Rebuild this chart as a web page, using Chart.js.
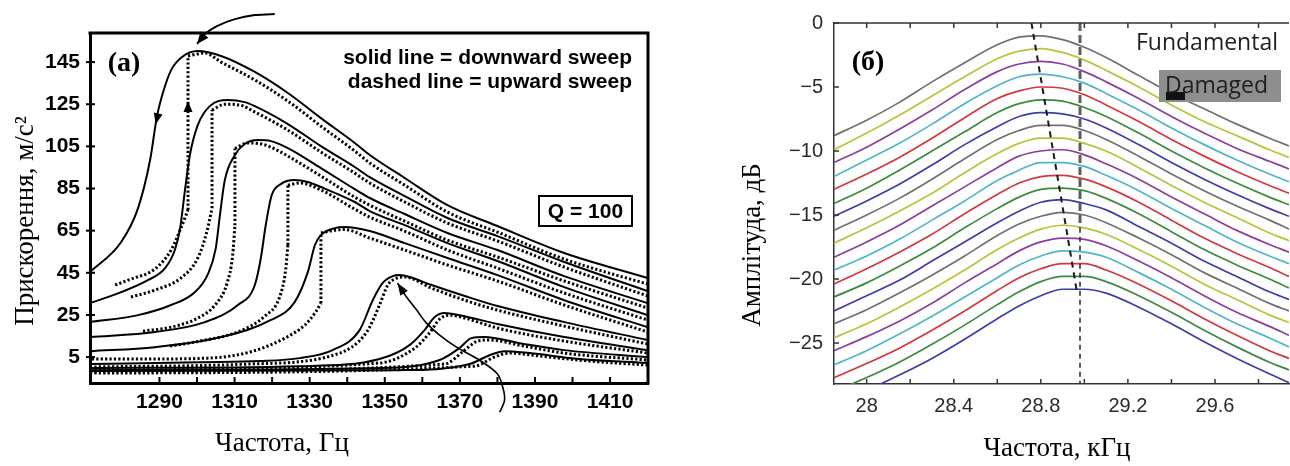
<!DOCTYPE html>
<html>
<head>
<meta charset="utf-8">
<title>Резонансні криві</title>
<script src="https://cdn.jsdelivr.net/npm/chart.js@4.4.1/dist/chart.umd.min.js"></script>
<style>
  html, body { margin: 0; padding: 0; background: #fff; }
  #page { position: relative; width: 1290px; height: 466px; overflow: hidden; }
  canvas { position: absolute; top: 0; }
  #accel { left: 0; }
  #amp { left: 660px; }
</style>
</head>
<body>
<div id="page">
  <canvas id="accel" width="660" height="466"></canvas>
  <canvas id="amp" width="630" height="466"></canvas>
</div>
<script>
// === (а) Прискорення: зменшення частоти (суцільні) і збільшення (пунктир) ===
const accelFreqTicks = [1290, 1300, 1310, 1320, 1330, 1340, 1350, 1360, 1370, 1380, 1390, 1400, 1410];
const accelFreqLabels = [1290, 1310, 1330, 1350, 1370, 1390, 1410];
const accelTicks = [5, 25, 45, 65, 85, 105, 125, 145];

// [частота, Гц ; прискорення, м/с2]
const down1 = [[1271.5,45.3],[1279.8,59.6],[1284.3,75.7],[1287.5,98.5],[1289.3,118.9],[1290.9,130.3],[1293.1,141.2],[1296.0,147.4],[1300.2,150.2],[1306.4,147.9],[1315.4,140.3],[1324.2,130.3],[1333.0,118.4],[1342.0,106.6],[1346.0,100.9],[1355.3,90.0],[1366.7,77.1],[1380.0,67.2],[1397.8,54.4],[1420.0,42.5]];
const down2 = [[1271.5,30.6],[1279.8,35.8],[1286.9,41.5],[1291.5,47.2],[1294.1,55.8],[1295.5,66.2],[1296.8,84.3],[1298.1,100.9],[1300.2,115.1],[1303.4,124.1],[1308.2,127.0],[1312.7,126.0],[1315.4,124.1],[1324.2,115.6],[1333.0,105.1],[1342.0,95.2],[1346.0,90.4],[1355.3,81.4],[1366.7,71.0],[1380.0,62.4],[1397.8,50.1],[1420.0,36.3]];
const down3 = [[1271.5,21.6],[1284.3,24.9],[1293.1,29.7],[1299.4,35.8],[1302.9,44.4],[1305.0,56.7],[1306.1,72.4],[1307.4,89.0],[1310.1,100.9],[1312.7,106.1],[1316.2,108.0],[1319.7,107.5],[1324.2,104.2],[1333.0,94.7],[1342.0,84.7],[1346.0,80.5],[1355.3,72.9],[1366.7,63.9],[1380.0,55.8],[1397.8,43.4],[1420.0,30.6]];
const down4 = [[1271.5,14.5],[1288.8,16.9],[1302.1,21.6],[1310.9,29.7],[1315.4,39.2],[1317.0,52.0],[1318.3,67.6],[1319.9,81.9],[1322.3,87.1],[1326.0,89.0],[1329.5,88.1],[1333.0,85.7],[1342.0,78.6],[1346.0,74.3],[1355.3,67.6],[1366.7,59.1],[1380.0,50.6],[1397.8,38.2],[1420.0,24.9]];
const down5 = [[1271.5,7.8],[1288.8,9.7],[1306.4,14.5],[1319.7,22.6],[1326.0,31.1],[1329.5,45.3],[1331.4,58.2],[1333.0,62.9],[1336.7,66.2],[1339.3,66.7],[1346.0,64.8],[1355.3,59.1],[1366.7,52.0],[1380.0,43.9],[1397.8,32.0],[1420.0,19.2]];
const down6 = [[1271.5,1.7],[1300.8,2.6],[1316.7,3.1],[1327.4,4.5],[1336.1,8.3],[1343.3,17.8],[1346.8,32.0],[1349.4,40.1],[1352.1,43.4],[1354.0,43.9],[1356.6,43.0],[1362.5,39.2],[1371.3,34.0],[1380.0,29.2],[1397.8,21.6],[1420.0,13.1]];
const down7 = [[1271.5,-0.2],[1327.4,0.7],[1348.6,4.1],[1356.6,10.7],[1360.6,17.8],[1363.3,24.0],[1365.9,25.9],[1369.9,24.9],[1380.0,20.7],[1397.8,14.5],[1420.0,8.3]];
const down8 = [[1271.5,-1.2],[1348.6,-0.2],[1364.6,3.6],[1369.9,9.3],[1373.1,14.0],[1376.6,14.5],[1385.9,11.6],[1397.8,8.3],[1420.0,5.0]];
const down9 = [[1271.5,-1.6],[1354.0,-1.2],[1372.6,1.7],[1377.9,5.9],[1381.9,7.8],[1388.5,6.9],[1401.8,4.1],[1420.0,2.2]];

// пунктир: нижня гілка, стрибок (дві точки з однаковою частотою), верхня гілка
const up1 = [[1278.2,39.2],[1282.4,42.0],[1288.8,46.8],[1293.1,55.8],[1295.7,66.2],[1297.6,74.8],[1297.6,147.9],[1302.1,149.3],[1306.4,145.0],[1315.4,136.5],[1324.2,126.5],[1333.0,114.6],[1342.0,102.8],[1346.0,97.1],[1355.3,86.6],[1366.7,73.8],[1380.0,64.3],[1397.8,51.5],[1420.0,39.6]];
const up2 = [[1282.4,33.5],[1288.8,36.8],[1295.7,42.5],[1300.2,52.0],[1302.6,64.3],[1304.0,75.7],[1304.0,122.2],[1307.4,125.0],[1311.4,124.6],[1315.4,121.3],[1324.2,112.7],[1333.0,102.3],[1342.0,92.3],[1346.0,87.6],[1355.3,78.6],[1366.7,68.6],[1380.0,60.1],[1397.8,47.7],[1420.0,34.0]];
const up3 = [[1285.6,17.3],[1293.1,19.2],[1300.2,23.5],[1304.8,29.7],[1308.0,40.1],[1309.5,53.4],[1310.1,67.6],[1310.1,104.0],[1313.5,106.6],[1317.5,106.0],[1321.0,103.5],[1324.2,100.4],[1333.0,90.9],[1342.0,80.9],[1346.0,77.1],[1355.3,69.5],[1366.7,60.5],[1380.0,52.5],[1397.8,41.1],[1420.0,28.3]];
const up4 = [[1292.8,10.2],[1300.8,12.6],[1311.4,17.3],[1318.1,24.5],[1322.0,33.5],[1323.6,46.3],[1324.2,58.2],[1324.2,86.6],[1327.4,87.6],[1333.0,84.3],[1342.0,75.2],[1346.0,71.4],[1355.3,64.8],[1366.7,55.8],[1380.0,47.2],[1397.8,35.4],[1420.0,22.6]];
const up5 = [[1272.0,4.1],[1287.5,4.1],[1302.9,4.5],[1314.1,7.4],[1323.4,14.0],[1328.7,20.2],[1331.6,26.4],[1333.0,30.6],[1333.0,63.9],[1336.7,65.2],[1339.3,65.5],[1346.0,61.5],[1355.3,55.8],[1366.7,48.7],[1380.0,41.1],[1397.8,29.7],[1420.0,16.9]];
const up6 = [[1271.5,0.3],[1314.1,1.7],[1337.2,6.4],[1345.2,16.9],[1348.6,29.7],[1350.8,39.2],[1352.6,42.0],[1355.3,43.0],[1362.5,37.7],[1371.3,32.0],[1380.0,27.3],[1397.8,19.7],[1420.0,11.2]];
const up7 = [[1271.5,-1.2],[1348.6,2.2],[1358.0,9.3],[1361.9,16.4],[1364.6,23.0],[1367.3,24.9],[1371.3,23.5],[1380.0,18.8],[1397.8,12.6],[1420.0,6.9]];
const up8 = [[1271.5,-2.1],[1365.9,1.7],[1371.3,8.3],[1374.7,12.6],[1377.9,13.1],[1387.2,10.2],[1397.8,6.9],[1420.0,3.6]];
const up9 = [[1271.5,-2.6],[1373.9,0.7],[1379.2,5.0],[1383.2,6.9],[1391.2,5.5],[1404.5,3.1],[1420.0,1.2]];

const downSweeps = [down1, down2, down3, down4, down5, down6, down7, down8, down9];
const upSweeps = [up1, up2, up3, up4, up5, up6, up7, up8, up9];

// стрілки-пояснення, в одиницях осей
const topArrow = [[1300.0,153.6],[1302.1,158.3],[1305.3,162.1],[1310.1,165.4],[1315.4,167.3],[1320.7,167.8]];
const jumpArrow = [[1353.4,40.1],[1355.8,33.5],[1358.5,27.3],[1361.1,21.1],[1364.6,15.4],[1369.1,9.7],[1375.2,3.6],[1379.8,-2.6],[1381.4,-9.2],[1381.9,-15.4],[1380.6,-21.1]];

// === (б) Амплітуда: 21 крива, зсув піку ===
const ampFreq = [27.85, 28.0, 28.15, 28.3, 28.45, 28.6, 28.7, 28.8, 28.9, 29.0, 29.1, 29.25, 29.4, 29.55, 29.7, 29.85, 29.94];
const ampTicks = [0, -5, -10, -15, -20, -25];
const ampFreqTicks = [28, 28.2, 28.4, 28.6, 28.8, 29, 29.2, 29.4, 29.6, 29.8];
const ampFreqLabels = [28, 28.4, 28.8, 29.2, 29.6];

const amp01 = [-8.8, -7.6, -6.2, -4.6, -3.1, -1.7, -1.1, -1.0, -1.3, -1.9, -2.7, -4.1, -5.5, -6.7, -7.9, -9.0, -9.6];
const amp02 = [-9.9, -8.6, -7.2, -5.7, -4.2, -2.8, -2.2, -2.0, -2.3, -2.9, -3.7, -5.0, -6.4, -7.7, -8.8, -9.9, -10.5];
const amp03 = [-10.9, -9.7, -8.3, -6.8, -5.2, -3.8, -3.2, -3.0, -3.2, -3.8, -4.6, -5.9, -7.3, -8.6, -9.8, -10.8, -11.4];
const amp04 = [-12.0, -10.7, -9.4, -7.9, -6.3, -4.9, -4.2, -4.0, -4.2, -4.7, -5.5, -6.8, -8.2, -9.5, -10.7, -11.8, -12.4];
const amp05 = [-13.0, -11.8, -10.5, -9.0, -7.4, -5.9, -5.3, -5.0, -5.1, -5.6, -6.4, -7.7, -9.1, -10.4, -11.6, -12.7, -13.3];
const amp06 = [-14.1, -12.9, -11.5, -10.0, -8.5, -7.0, -6.3, -6.0, -6.1, -6.6, -7.3, -8.6, -10.0, -11.3, -12.5, -13.6, -14.2];
const amp07 = [-15.1, -13.9, -12.6, -11.1, -9.5, -8.1, -7.3, -7.0, -7.1, -7.5, -8.2, -9.5, -10.9, -12.2, -13.4, -14.5, -15.1];
const amp08 = [-16.2, -15.0, -13.7, -12.2, -10.6, -9.1, -8.4, -8.0, -8.0, -8.4, -9.1, -10.4, -11.8, -13.1, -14.3, -15.4, -16.1];
const amp09 = [-17.2, -16.0, -14.7, -13.3, -11.7, -10.2, -9.4, -9.0, -9.0, -9.4, -10.0, -11.3, -12.7, -14.0, -15.2, -16.4, -17.0];
const amp10 = [-18.3, -17.1, -15.8, -14.3, -12.8, -11.3, -10.4, -10.0, -9.9, -10.3, -11.0, -12.2, -13.6, -14.9, -16.2, -17.3, -17.9];
const amp11 = [-19.3, -18.2, -16.9, -15.4, -13.9, -12.3, -11.5, -10.9, -10.9, -11.2, -11.9, -13.1, -14.5, -15.8, -17.1, -18.2, -18.8];
const amp12 = [-20.4, -19.2, -17.9, -16.5, -14.9, -13.4, -12.5, -12.0, -11.9, -12.2, -12.8, -14.0, -15.4, -16.8, -18.0, -19.1, -19.8];
const amp13 = [-21.4, -20.3, -19.0, -17.6, -16.0, -14.5, -13.6, -13.0, -12.9, -13.1, -13.7, -14.9, -16.3, -17.7, -18.9, -20.0, -20.7];
const amp14 = [-22.5, -21.3, -20.1, -18.6, -17.1, -15.6, -14.7, -14.0, -13.8, -14.1, -14.6, -15.9, -17.2, -18.6, -19.8, -21.0, -21.6];
const amp15 = [-23.5, -22.4, -21.1, -19.7, -18.2, -16.6, -15.7, -15.1, -14.8, -15.0, -15.6, -16.8, -18.1, -19.5, -20.7, -21.9, -22.5];
const amp16 = [-24.6, -23.5, -22.2, -20.8, -19.3, -17.7, -16.8, -16.1, -15.8, -16.0, -16.5, -17.7, -19.0, -20.4, -21.6, -22.8, -23.4];
const amp17 = [-25.6, -24.5, -23.3, -21.9, -20.3, -18.8, -17.8, -17.1, -16.8, -16.9, -17.4, -18.6, -19.9, -21.3, -22.6, -23.7, -24.4];
const amp18 = [-26.7, -25.6, -24.3, -22.9, -21.4, -19.9, -18.9, -18.2, -17.8, -17.9, -18.3, -19.5, -20.8, -22.2, -23.5, -24.6, -25.3];
const amp19 = [-27.7, -26.6, -25.4, -24.0, -22.5, -20.9, -19.9, -19.2, -18.8, -18.8, -19.3, -20.4, -21.7, -23.1, -24.4, -25.6, -26.2];
const amp20 = [-28.8, -27.7, -26.5, -25.1, -23.6, -22.0, -21.0, -20.2, -19.8, -19.8, -20.2, -21.3, -22.6, -24.0, -25.3, -26.5, -27.1];
const amp21 = [-29.8, -28.7, -27.5, -26.2, -24.7, -23.1, -22.1, -21.3, -20.8, -20.8, -21.1, -22.2, -23.5, -24.9, -26.2, -27.4, -28.1];

const ampTraces = [amp01, amp02, amp03, amp04, amp05, amp06, amp07, amp08, amp09, amp10, amp11,
  amp12, amp13, amp14, amp15, amp16, amp17, amp18, amp19, amp20, amp21];
const traceColors = ['#707070', '#b8c43c', '#8d3e9d', '#4fb6c6', '#d2383c', '#3c8b3d', '#3c3da7'];

// лінія зсуву піку і опорна вертикаль
const peakShift = [[28.757, 0], [28.966, -21.0]];
const refLineTop = [[28.98, 0], [28.98, -16]];
const refLineBottom = [[28.98, -16], [28.98, -28.2]];

// ---------------------------------------------------------------
Chart.defaults.font.family = 'Liberation Sans';
Chart.defaults.color = '#000';

const pts = arr => arr.map(([x, y]) => ({ x, y }));

// розбиває пунктир на три частини, щоб стрибок був прямою вертикаллю
function splitAtJump(series) {
  const i = series.findIndex((p, k) => k > 0 && p[0] === series[k - 1][0]);
  if (i < 0) return [series];
  return [series.slice(0, i), [series[i - 1], series[i]], series.slice(i)];
}

function line(ctx, x1, y1, x2, y2) {
  ctx.beginPath();
  ctx.moveTo(x1, y1);
  ctx.lineTo(x2, y2);
  ctx.stroke();
}

function arrowHead(ctx, tip, from, len, half) {
  const a = Math.atan2(tip.y - from.y, tip.x - from.x);
  const bx = tip.x - len * Math.cos(a), by = tip.y - len * Math.sin(a);
  ctx.beginPath();
  ctx.moveTo(tip.x, tip.y);
  ctx.lineTo(bx + half * Math.sin(a), by - half * Math.cos(a));
  ctx.lineTo(bx - half * Math.sin(a), by + half * Math.cos(a));
  ctx.closePath();
  ctx.fill();
}

// гладка крива через точки (Catmull-Rom)
function smoothPath(ctx, p) {
  ctx.beginPath();
  ctx.moveTo(p[0].x, p[0].y);
  for (let i = 0; i < p.length - 1; i++) {
    const p0 = p[i - 1] || p[i], p1 = p[i], p2 = p[i + 1], p3 = p[i + 2] || p2;
    ctx.bezierCurveTo(p1.x + (p2.x - p0.x) / 6, p1.y + (p2.y - p0.y) / 6,
      p2.x - (p3.x - p1.x) / 6, p2.y - (p3.y - p1.y) / 6, p2.x, p2.y);
  }
  ctx.stroke();
}

function rotatedText(ctx, text, x, y) {
  ctx.save();
  ctx.translate(x, y);
  ctx.rotate(-Math.PI / 2);
  ctx.fillText(text, 0, 0);
  ctx.restore();
}

// --- оформлення панелі (а) ---
const accelDecor = {
  id: 'accelDecor',
  afterDraw(chart) {
    const { ctx, chartArea: a, scales: { x, y } } = chart;
    const px = ([f, v]) => ({ x: x.getPixelForValue(f), y: y.getPixelForValue(v) });
    ctx.save();
    ctx.strokeStyle = '#000';
    ctx.fillStyle = '#000';

    // верхня і права рамка
    ctx.lineWidth = 3;
    ctx.beginPath();
    ctx.moveTo(a.left - 1.5, a.top);
    ctx.lineTo(a.right, a.top);
    ctx.lineTo(a.right, a.bottom + 1.5);
    ctx.stroke();

    // поділки всередину
    ctx.lineWidth = 2;
    accelFreqTicks.forEach(v => {
      const p = x.getPixelForValue(v);
      line(ctx, p, a.bottom, p, a.bottom - 6);
    });
    accelTicks.forEach(v => {
      const p = y.getPixelForValue(v);
      line(ctx, a.left - 4, p, a.left + 5, p);
    });

    // стрілки на кривих найбільшого збудження
    arrowHead(ctx, px([1289.0, 115.5]), px([1290.6, 128.0]), 11, 4.5);
    arrowHead(ctx, px([1297.6, 126.5]), px([1297.6, 114.0]), 11, 4.5);

    // пояснювальні стрілки
    ctx.lineWidth = 2;
    const top = topArrow.map(px);
    smoothPath(ctx, top);
    arrowHead(ctx, top[0], top[1], 12, 5);
    ctx.lineWidth = 1.6;
    const jump = jumpArrow.map(px);
    smoothPath(ctx, jump);
    arrowHead(ctx, jump[0], jump[1], 12, 4.5);

    // підписи
    ctx.textBaseline = 'middle';
    ctx.textAlign = 'center';
    ctx.font = 'bold 28px "Liberation Serif"';
    ctx.fillText('(a)', 124, 64);

    ctx.font = 'bold 21px "Liberation Sans"';
    ctx.textAlign = 'right';
    ctx.fillText('solid line = downward sweep', 632, 58);
    ctx.fillText('dashed line = upward sweep', 632, 82);

    ctx.lineWidth = 2;
    ctx.strokeRect(539, 196, 93, 30);
    ctx.textAlign = 'center';
    ctx.fillText('Q = 100', 585.5, 212);

    ctx.font = '27px "Liberation Serif"';
    rotatedText(ctx, 'Прискорення, м/с²', 26, 221);
    ctx.fillText('Частота, Гц', 282, 444);
    ctx.restore();
  }
};

const solidStyle = {
  borderColor: '#000', borderWidth: 2, pointRadius: 0, fill: false,
  cubicInterpolationMode: 'monotone', borderJoinStyle: 'round'
};
const dottedStyle = {
  borderColor: '#000', borderWidth: 3, borderDash: [2.2, 2.2], borderCapStyle: 'butt',
  pointRadius: 0, fill: false, cubicInterpolationMode: 'monotone'
};

const accelSets = [];
downSweeps.forEach(s => accelSets.push({ data: pts(s), ...solidStyle }));
upSweeps.forEach(s => splitAtJump(s).forEach(part => accelSets.push({ data: pts(part), ...dottedStyle })));

new Chart(document.getElementById('accel'), {
  type: 'line',
  data: { datasets: accelSets },
  options: {
    responsive: false,
    animation: false,
    devicePixelRatio: 1,
    layout: { padding: { left: 0, right: 12, top: 33, bottom: 0 } },
    plugins: { legend: { display: false }, tooltip: { enabled: false } },
    scales: {
      x: {
        type: 'linear', min: 1271.5, max: 1420.1,
        afterBuildTicks: s => { s.ticks = accelFreqTicks.map(v => ({ value: v })); },
        afterFit: s => { s.height = 83; },
        grid: { display: false, drawTicks: false },
        border: { display: true, color: '#000', width: 3 },
        ticks: {
          autoSkip: false, maxRotation: 0, padding: 7, color: '#000',
          font: { size: 21, weight: 'bold' },
          callback: v => accelFreqLabels.includes(v) ? String(v) : ''
        }
      },
      y: {
        type: 'linear', min: -7.3, max: 158.8,
        afterBuildTicks: s => { s.ticks = accelTicks.map(v => ({ value: v })); },
        afterFit: s => { s.width = 90; },
        grid: { display: false, drawTicks: false },
        border: { display: true, color: '#000', width: 3 },
        ticks: {
          autoSkip: false, padding: 10, color: '#000',
          font: { size: 21, weight: 'bold' },
          callback: v => String(v)
        }
      }
    }
  },
  plugins: [accelDecor]
});

// --- оформлення панелі (б) ---
const ampDecor = {
  id: 'ampDecor',
  afterDraw(chart) {
    const { ctx, chartArea: a, scales: { x, y } } = chart;
    ctx.save();
    ctx.strokeStyle = '#333';
    ctx.lineWidth = 1.5;
    line(ctx, a.left, a.top, a.right, a.top);
    ampFreqTicks.forEach(v => {
      const p = x.getPixelForValue(v);
      line(ctx, p, a.bottom, p, a.bottom - 5);
      line(ctx, p, a.top, p, a.top + 5);
    });
    ampTicks.forEach(v => {
      const p = y.getPixelForValue(v);
      line(ctx, a.left, p, a.left + 5, p);
    });

    ctx.textBaseline = 'middle';
    ctx.fillStyle = '#000';
    ctx.textAlign = 'center';
    ctx.font = 'bold 28px "Liberation Serif"';
    ctx.fillText('(б)', 208, 63);

    ctx.font = '23px "Open Sans"';
    ctx.fillStyle = '#1e1e1e';
    ctx.textAlign = 'right';
    ctx.fillText('Fundamental', 618, 43);

    ctx.fillStyle = '#8e8e8e';
    ctx.fillRect(499, 70, 122, 32);
    ctx.fillStyle = '#111';
    ctx.fillRect(506, 92, 19, 8);
    ctx.fillStyle = '#1e1e1e';
    ctx.textAlign = 'left';
    ctx.fillText('Damaged', 505, 86);

    ctx.fillStyle = '#000';
    ctx.textAlign = 'center';
    ctx.font = '27px "Liberation Serif"';
    rotatedText(ctx, 'Амплітуда, дБ', 93, 245);
    ctx.fillText('Частота, кГц', 397, 449);
    ctx.restore();
  }
};

const ampSets = [
  { data: pts(peakShift), borderColor: '#1a1a1a', borderWidth: 2, borderDash: [6, 5], pointRadius: 0 },
  { data: pts(refLineTop), borderColor: '#5e5e5e', borderWidth: 3, borderDash: [8, 4], pointRadius: 0 },
  { data: pts(refLineBottom), borderColor: '#333', borderWidth: 1.6, borderDash: [5, 4], pointRadius: 0 }
];
ampTraces.forEach((trace, i) => {
  ampSets.push({
    data: ampFreq.map((f, k) => ({ x: f, y: trace[k] })),
    borderColor: traceColors[i % traceColors.length],
    borderWidth: 1.7,
    pointRadius: 0,
    fill: false,
    cubicInterpolationMode: 'monotone'
  });
});

new Chart(document.getElementById('amp'), {
  type: 'line',
  data: { datasets: ampSets },
  options: {
    responsive: false,
    animation: false,
    devicePixelRatio: 1,
    layout: { padding: { left: 0, right: 1, top: 23, bottom: 0 } },
    plugins: { legend: { display: false }, tooltip: { enabled: false } },
    scales: {
      x: {
        type: 'linear', min: 27.85, max: 29.94,
        afterBuildTicks: s => { s.ticks = ampFreqTicks.map(v => ({ value: v })); },
        afterFit: s => { s.height = 82; },
        grid: { display: false, drawTicks: false },
        border: { display: true, color: '#333', width: 1.5 },
        ticks: {
          autoSkip: false, maxRotation: 0, padding: 10, color: '#2a2a2a',
          font: { size: 20 },
          callback: v => ampFreqLabels.includes(v) ? String(v) : ''
        }
      },
      y: {
        type: 'linear', min: -28.2, max: 0,
        afterBuildTicks: s => { s.ticks = ampTicks.map(v => ({ value: v })); },
        afterFit: s => { s.width = 174; },
        grid: { display: false, drawTicks: false },
        border: { display: true, color: '#333', width: 1.5 },
        ticks: {
          autoSkip: false, padding: 11, color: '#2a2a2a',
          font: { size: 20 },
          callback: v => String(v).replace('-', '\u2212')
        }
      }
    }
  },
  plugins: [ampDecor]
});
</script>
</body>
</html>
